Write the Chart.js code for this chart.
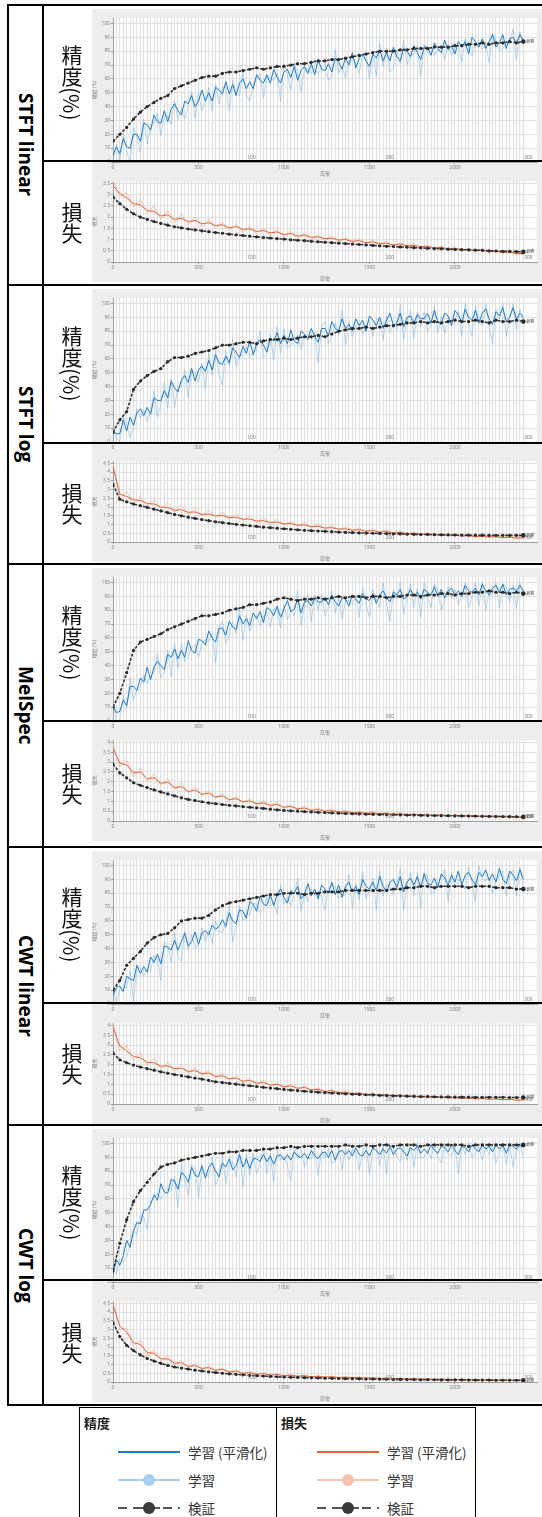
<!DOCTYPE html>
<html>
<head>
<meta charset="utf-8">
<script src="https://cdn.jsdelivr.net/npm/chart.js@4.4.1/dist/chart.umd.min.js"></script>
<style>
body { margin:0; width:542px; height:1517px; background:#fff; position:relative; overflow:hidden; font-family:"Noto Sans CJK JP", "Noto Sans", sans-serif; }
.hline { position:absolute; height:2px; background:#000; z-index:5; }
.vline { position:absolute; width:2px; background:#000; z-index:5; }
.shot { position:absolute; left:92px; width:450px; height:273px; background:#ededed; }
.shot canvas { position:absolute; left:0; }
.cell { position:absolute; display:flex; align-items:center; justify-content:center; }
.vert { writing-mode:vertical-rl; white-space:nowrap; }
.rowname { font-family:"Open Sans", "DejaVu Sans", sans-serif; font-weight:bold; font-size:19px; color:#000; }
.metric { font-family:"Noto Sans CJK JP", sans-serif; font-size:21px; color:#111; }
.lg { position:absolute; font-family:"Noto Sans CJK JP", sans-serif; color:#333; white-space:nowrap; }
</style>
</head>
<body>
<script>
"use strict";

// iteration grids (x values)
const iterations = [0,40,80,120,160,200,240,280,320,360,400,440,480,520,560,600,640,680,720,760,800,840,880,920,960,1000,1040,1080,1120,1160,1200,1240,1280,1320,1360,1400,1440,1480,1520,1560,1600,1640,1680,1720,1760,1800,1840,1880,1920,1960,2000,2040,2080,2120,2160,2200,2240,2280,2320,2360,2400];
const iterationsFine = [0,20,40,60,80,100,120,140,160,180,200,220,240,260,280,300,320,340,360,380,400,420,440,460,480,500,520,540,560,580,600,620,640,660,680,700,720,740,760,780,800,820,840,860,880,900,920,940,960,980,1000,1020,1040,1060,1080,1100,1120,1140,1160,1180,1200,1220,1240,1260,1280,1300,1320,1340,1360,1380,1400,1420,1440,1460,1480,1500,1520,1540,1560,1580,1600,1620,1640,1660,1680,1700,1720,1740,1760,1780,1800,1820,1840,1860,1880,1900,1920,1940,1960,1980,2000,2020,2040,2060,2080,2100,2120,2140,2160,2180,2200,2220,2240,2260,2280,2300,2320,2340,2360,2380,2400];

const epochLabels = ['100', '200', '300'];
const epochIters = [810, 1620, 2430];
const xTickLabels = [0, 500, 1000, 1500, 2000];
const accTicks = [0, 10, 20, 30, 40, 50, 60, 70, 80, 90, 100];
const lossTicks = [0, 0.5, 1, 1.5, 2, 2.5, 3, 3.5, 4, 4.5];

const rowNames = ['STFT linear', 'STFT log', 'MelSpec', 'CWT linear', 'CWT log'];
const lossTopTicks = [3.5, 4.5, 4, 4, 4.5];
const legendLabels = ['学習 (平滑化)', '学習', '検証'];

// STFT linear
const stftLinAccVal = [15,20,25,31,36,40,43,46,48,53,55,57,59,61,62,62,64,65,65,66,67,68,67,68,69,69,70,71,71,72,73,73,74,74,75,76,77,78,79,80,80,80,81,81,82,82,82,83,83,83,84,84,85,85,86,85,86,86,87,86,87];
const stftLinAccTrain = [5,11,6,17,11,10,20,20,15,28,27,23,34,29,28,37,29,38,42,37,34,44,42,48,40,44,52,44,50,44,54,52,49,58,49,56,48,57,60,53,58,53,63,59,57,63,57,67,61,57,65,67,61,69,59,66,69,64,71,63,74,67,66,71,65,75,72,67,75,70,79,68,75,78,73,69,78,75,81,73,79,73,83,76,73,82,80,76,84,79,74,83,83,77,86,82,79,88,81,84,78,87,83,87,78,90,87,83,89,82,87,92,83,86,92,82,89,90,86,92,88];
const stftLinAccRaw = [0,13,0,21,8,0,25,18,7,31,13,24,29,35,19,34,33,27,44,31,39,31,40,51,32,50,37,43,54,37,56,42,54,54,37,59,49,48,66,48,44,55,60,64,46,62,61,59,64,44,71,63,52,71,64,51,67,67,64,67,64,68,71,59,62,81,64,69,61,73,74,72,64,77,79,60,80,62,86,69,82,65,68,80,71,88,70,77,78,84,62,85,79,83,77,81,82,74,85,77,83,84,72,89,84,77,85,87,81,85,72,93,88,80,82,86,86,96,74,94,84];
const stftLinLossVal = [2.9,2.6,2.35,2.15,2.0,1.9,1.8,1.72,1.64,1.57,1.52,1.47,1.43,1.39,1.35,1.31,1.28,1.24,1.21,1.18,1.15,1.12,1.09,1.07,1.04,1.02,0.99,0.97,0.95,0.92,0.9,0.88,0.86,0.84,0.82,0.8,0.78,0.76,0.74,0.72,0.7,0.69,0.67,0.66,0.64,0.63,0.61,0.6,0.59,0.57,0.56,0.55,0.54,0.53,0.52,0.5,0.49,0.48,0.47,0.46,0.45];
const stftLinLossTrain = [3.4,3.05,2.85,2.6,2.55,2.3,2.25,2.05,2.1,1.9,1.95,1.8,1.85,1.7,1.75,1.62,1.66,1.52,1.58,1.45,1.48,1.36,1.4,1.3,1.34,1.22,1.27,1.15,1.2,1.1,1.12,1.04,1.06,0.98,1.0,0.92,0.95,0.86,0.9,0.82,0.84,0.76,0.8,0.72,0.74,0.68,0.7,0.62,0.66,0.58,0.6,0.55,0.56,0.5,0.52,0.46,0.48,0.42,0.44,0.38,0.38];
const stftLinLossRaw = [3.6,2.9,3.1,2.45,2.8,2.15,2.5,1.9,2.3,1.75,2.15,1.65,2.0,1.55,1.9,1.5,1.8,1.4,1.7,1.32,1.6,1.25,1.52,1.18,1.45,1.1,1.38,1.05,1.3,0.98,1.22,0.94,1.15,0.88,1.1,0.82,1.05,0.78,0.98,0.72,0.92,0.68,0.88,0.64,0.82,0.6,0.78,0.55,0.72,0.52,0.68,0.48,0.63,0.44,0.6,0.4,0.55,0.36,0.52,0.33,0.36];

// STFT log
const stftLogAccVal = [7,16,22,38,44,48,51,53,58,61,61,62,64,65,66,68,70,70,71,72,72,71,73,74,74,75,74,75,76,76,77,76,78,80,81,82,82,83,82,83,84,84,85,86,86,87,86,87,86,87,88,87,87,88,87,86,88,87,87,88,87];
const stftLogAccTrain = [7,6,6,16,8,18,12,21,24,19,25,20,32,30,30,37,32,44,39,36,45,48,43,53,44,52,55,51,59,52,63,57,56,62,57,68,65,61,69,64,73,63,71,74,70,65,75,73,79,71,77,71,81,73,71,80,78,74,82,76,72,82,82,77,87,82,80,89,82,85,80,89,84,88,80,91,88,84,90,82,88,93,84,86,93,83,90,91,86,92,89,89,93,86,95,87,85,93,91,84,95,92,86,96,90,88,95,86,93,96,89,85,94,91,97,87,90,97,89,93,90];
const stftLogAccRaw = [13,2,0,18,13,3,10,24,17,23,15,21,37,18,27,43,24,46,25,39,40,52,32,52,50,43,57,38,64,48,66,49,41,66,55,74,55,62,63,69,61,65,67,80,61,64,78,59,83,64,82,68,70,75,77,67,76,78,74,79,57,83,87,71,77,86,77,95,70,87,76,83,86,78,84,88,76,89,88,74,91,79,85,81,99,74,87,95,75,94,83,94,80,84,98,79,91,78,90,88,88,94,76,100,86,76,98,87,84,100,84,71,96,88,100,76,89,100,81,96,88];
const stftLogLossVal = [3.3,2.45,2.3,2.17,2.08,1.98,1.88,1.78,1.68,1.58,1.5,1.42,1.35,1.28,1.22,1.16,1.11,1.06,1.01,0.97,0.93,0.89,0.85,0.82,0.79,0.76,0.73,0.7,0.67,0.65,0.63,0.61,0.59,0.57,0.55,0.54,0.52,0.51,0.5,0.49,0.48,0.47,0.46,0.45,0.44,0.43,0.43,0.42,0.41,0.41,0.4,0.4,0.39,0.39,0.39,0.38,0.38,0.38,0.38,0.38,0.38];
const stftLogLossTrain = [4.3,2.75,2.6,2.42,2.38,2.2,2.18,2.0,1.98,1.82,1.85,1.7,1.72,1.58,1.6,1.5,1.52,1.4,1.42,1.3,1.32,1.2,1.22,1.12,1.14,1.04,1.06,0.96,0.98,0.88,0.9,0.8,0.82,0.74,0.76,0.68,0.7,0.62,0.65,0.57,0.6,0.52,0.55,0.48,0.5,0.44,0.46,0.4,0.43,0.38,0.4,0.34,0.36,0.3,0.32,0.28,0.3,0.25,0.27,0.23,0.24];
const stftLogLossRaw = [4.5,2.5,2.9,2.2,2.65,2.0,2.45,1.85,2.25,1.7,2.1,1.58,1.95,1.48,1.82,1.4,1.72,1.3,1.62,1.2,1.5,1.12,1.4,1.04,1.3,0.96,1.2,0.9,1.12,0.82,1.02,0.74,0.95,0.68,0.88,0.62,0.82,0.56,0.76,0.52,0.7,0.48,0.64,0.44,0.6,0.4,0.55,0.36,0.52,0.33,0.48,0.3,0.44,0.27,0.4,0.25,0.36,0.22,0.33,0.2,0.25];

// MelSpec
const melAccVal = [10,20,35,51,57,59,61,63,66,68,70,72,74,76,76,77,78,80,81,82,84,84,85,86,88,89,88,87,88,88,89,88,89,90,89,90,90,89,90,90,89,90,90,91,91,90,91,91,92,92,91,92,92,93,93,94,93,93,92,93,92];
const melAccTrain = [11,6,7,15,11,25,25,22,31,28,39,30,39,43,40,37,48,46,52,45,51,46,58,51,49,59,58,55,65,60,57,67,67,62,72,68,66,76,70,74,69,78,74,79,71,82,80,76,83,75,81,87,79,81,88,78,86,87,83,89,86,86,89,84,91,86,83,89,88,83,91,88,85,92,88,87,92,85,91,94,89,86,93,91,95,88,90,95,90,93,88,95,93,91,97,90,95,89,94,96,91,94,90,98,94,93,96,91,99,94,91,96,98,93,99,91,95,96,94,98,94];
const melAccRaw = [14,0,0,19,9,31,15,23,25,33,27,32,35,49,31,36,51,32,56,38,56,43,47,53,55,46,56,59,57,63,42,68,72,56,62,72,63,82,58,76,65,72,76,69,75,79,68,81,81,67,84,73,80,76,94,69,83,91,72,91,80,91,76,82,94,78,89,74,87,87,84,90,75,97,84,75,95,86,82,100,84,72,95,88,100,77,89,99,82,96,75,100,89,82,99,95,80,87,97,89,95,84,91,100,82,90,100,83,100,80,94,91,100,82,98,97,86,98,81,100,90];
const melLossVal = [2.9,2.45,2.2,1.95,1.82,1.7,1.58,1.48,1.38,1.28,1.18,1.1,1.04,0.98,0.92,0.88,0.84,0.8,0.77,0.73,0.7,0.67,0.64,0.6,0.57,0.54,0.52,0.5,0.48,0.46,0.44,0.43,0.41,0.4,0.38,0.37,0.36,0.35,0.34,0.33,0.32,0.32,0.31,0.3,0.3,0.29,0.28,0.28,0.27,0.27,0.26,0.26,0.25,0.25,0.24,0.24,0.23,0.23,0.22,0.22,0.21];
const melLossTrain = [3.7,2.95,2.85,2.45,2.5,2.15,2.2,1.92,1.98,1.7,1.75,1.5,1.58,1.36,1.42,1.22,1.28,1.08,1.14,0.98,1.02,0.88,0.92,0.8,0.84,0.7,0.74,0.62,0.66,0.55,0.58,0.5,0.53,0.46,0.48,0.42,0.45,0.39,0.42,0.36,0.39,0.34,0.36,0.32,0.34,0.3,0.32,0.28,0.31,0.26,0.29,0.24,0.27,0.23,0.25,0.21,0.24,0.2,0.23,0.19,0.2];
const melLossRaw = [3.9,2.75,3.1,2.25,2.7,2.0,2.4,1.8,2.15,1.58,1.95,1.4,1.75,1.28,1.55,1.15,1.4,1.02,1.25,0.92,1.12,0.82,1.02,0.74,0.94,0.65,0.84,0.58,0.76,0.5,0.68,0.46,0.62,0.42,0.56,0.38,0.52,0.35,0.5,0.32,0.46,0.3,0.44,0.28,0.42,0.26,0.4,0.24,0.38,0.22,0.36,0.2,0.34,0.19,0.32,0.18,0.31,0.17,0.3,0.16,0.21];

// CWT linear
const cwtLinAccVal = [10,17,28,33,38,44,48,50,51,55,60,61,62,62,64,68,71,73,74,75,76,77,78,79,79,80,80,80,79,80,80,81,81,81,82,82,82,82,82,82,82,83,83,84,84,85,85,84,85,85,85,85,84,85,85,85,84,84,84,83,83];
const cwtLinAccTrain = [6,12,13,9,20,18,17,28,22,27,23,34,30,36,29,42,41,39,46,39,45,51,42,45,52,43,51,53,50,57,54,56,61,56,66,60,58,68,67,62,74,72,67,78,72,71,79,71,79,83,77,73,82,80,85,76,79,87,78,83,76,86,83,80,88,79,86,77,85,88,81,85,79,90,85,83,88,82,92,85,81,88,90,84,92,81,88,91,86,92,84,94,87,86,91,84,94,91,86,93,88,96,86,93,95,90,86,95,92,97,89,94,88,98,90,87,96,93,89,97,90];
const cwtLinAccRaw = [11,0,11,12,12,24,2,27,26,20,25,24,35,32,17,45,42,30,52,34,31,53,39,50,41,42,55,45,53,44,60,52,52,58,71,45,56,71,60,66,64,73,72,66,69,77,71,73,65,86,72,77,71,79,91,67,81,74,83,79,79,78,68,84,86,85,76,78,79,93,69,87,75,96,76,82,91,68,96,78,86,85,79,86,98,68,86,95,78,95,69,95,92,80,81,88,91,97,74,95,84,90,88,83,99,87,74,100,90,89,92,80,89,93,96,78,93,97,78,99,84];
const cwtLinLossVal = [2.6,2.25,2.1,1.98,1.88,1.8,1.72,1.64,1.57,1.5,1.44,1.38,1.32,1.27,1.2,1.13,1.09,1.05,1.01,0.97,0.93,0.89,0.85,0.81,0.78,0.74,0.71,0.68,0.65,0.63,0.6,0.58,0.56,0.54,0.52,0.5,0.49,0.47,0.46,0.44,0.43,0.42,0.41,0.4,0.39,0.38,0.38,0.37,0.36,0.36,0.35,0.35,0.35,0.34,0.34,0.34,0.34,0.34,0.33,0.33,0.33];
const cwtLinLossTrain = [3.9,2.95,2.7,2.42,2.35,2.12,2.1,1.92,1.95,1.8,1.82,1.66,1.7,1.55,1.58,1.4,1.44,1.28,1.32,1.16,1.2,1.06,1.1,0.96,1.0,0.88,0.92,0.8,0.84,0.72,0.75,0.64,0.68,0.58,0.6,0.53,0.55,0.48,0.5,0.44,0.46,0.41,0.43,0.38,0.4,0.36,0.37,0.33,0.35,0.31,0.32,0.28,0.3,0.26,0.28,0.24,0.26,0.22,0.24,0.2,0.21];
const cwtLinLossRaw = [4.1,2.7,3.0,2.2,2.6,1.95,2.35,1.78,2.15,1.66,2.0,1.55,1.85,1.45,1.72,1.3,1.58,1.18,1.45,1.07,1.32,0.97,1.2,0.88,1.1,0.8,1.02,0.72,0.92,0.65,0.84,0.58,0.76,0.52,0.68,0.48,0.62,0.44,0.56,0.4,0.52,0.37,0.48,0.34,0.45,0.32,0.42,0.3,0.4,0.28,0.37,0.25,0.35,0.23,0.32,0.21,0.3,0.19,0.28,0.17,0.22];

// CWT log
const cwtLogAccVal = [8,28,45,58,66,72,78,83,85,86,88,89,90,91,92,93,93,94,94,95,95,95,96,96,97,97,98,97,98,98,98,98,98,98,99,98,98,99,98,99,99,98,99,99,99,98,99,99,99,99,99,99,98,99,99,99,99,99,99,99,99];
const cwtLogAccTrain = [6,16,12,19,30,25,37,43,42,52,52,56,63,59,71,65,64,74,73,67,79,77,72,83,77,76,84,75,83,86,80,76,86,83,89,81,84,92,83,89,82,89,89,87,92,87,91,85,91,92,88,92,88,94,91,90,93,89,95,91,89,93,94,90,95,88,94,95,92,95,91,97,92,91,95,91,97,95,92,96,93,98,92,96,97,94,91,97,95,98,93,96,93,99,95,93,98,97,94,99,95,92,98,97,94,99,96,94,99,96,98,94,99,96,99,93,99,98,96,99,97];
const cwtLogAccRaw = [8,6,17,15,18,28,38,34,48,47,38,58,60,64,60,64,68,66,76,54,85,73,63,85,82,61,82,78,76,90,70,77,91,71,86,87,76,94,69,92,77,93,78,86,98,78,93,72,96,88,91,84,73,98,89,96,83,90,89,96,77,95,90,96,86,87,97,81,96,88,96,94,81,93,100,78,95,99,84,99,78,99,97,90,87,98,88,100,83,100,89,90,95,89,99,90,86,100,92,91,98,78,99,92,100,90,93,98,88,98,92,99,86,94,100,85,100,83,95,100,90];
const cwtLogLossVal = [3.4,2.6,2.1,1.8,1.55,1.35,1.2,1.07,0.95,0.86,0.8,0.74,0.68,0.63,0.58,0.54,0.5,0.47,0.44,0.41,0.38,0.36,0.34,0.32,0.3,0.28,0.27,0.26,0.25,0.24,0.23,0.22,0.21,0.2,0.19,0.19,0.18,0.17,0.17,0.16,0.16,0.15,0.15,0.14,0.14,0.13,0.13,0.13,0.12,0.12,0.12,0.12,0.11,0.11,0.11,0.11,0.1,0.1,0.1,0.1,0.1];
const cwtLogLossTrain = [4.4,3.2,2.85,2.25,2.15,1.68,1.65,1.33,1.32,1.08,1.1,0.9,0.93,0.78,0.82,0.68,0.72,0.58,0.62,0.5,0.54,0.44,0.48,0.4,0.43,0.36,0.39,0.33,0.36,0.3,0.33,0.28,0.3,0.26,0.28,0.24,0.26,0.22,0.24,0.2,0.22,0.19,0.21,0.17,0.19,0.16,0.18,0.15,0.16,0.14,0.15,0.13,0.14,0.12,0.13,0.11,0.12,0.1,0.11,0.09,0.1];
const cwtLogLossRaw = [4.6,3.0,3.1,2.05,2.4,1.5,1.85,1.2,1.5,0.98,1.25,0.82,1.05,0.72,0.92,0.62,0.8,0.54,0.7,0.46,0.6,0.4,0.54,0.37,0.48,0.33,0.43,0.3,0.4,0.28,0.36,0.25,0.34,0.24,0.31,0.22,0.29,0.2,0.27,0.18,0.25,0.17,0.23,0.16,0.21,0.15,0.2,0.14,0.18,0.13,0.17,0.12,0.16,0.11,0.15,0.1,0.14,0.09,0.13,0.08,0.1];

const accSeries = [
	[stftLinAccVal, stftLinAccTrain, stftLinAccRaw],
	[stftLogAccVal, stftLogAccTrain, stftLogAccRaw],
	[melAccVal, melAccTrain, melAccRaw],
	[cwtLinAccVal, cwtLinAccTrain, cwtLinAccRaw],
	[cwtLogAccVal, cwtLogAccTrain, cwtLogAccRaw],
];
const lossSeries = [
	[stftLinLossVal, stftLinLossTrain, stftLinLossRaw],
	[stftLogLossVal, stftLogLossTrain, stftLogLossRaw],
	[melLossVal, melLossTrain, melLossRaw],
	[cwtLinLossVal, cwtLinLossTrain, cwtLinLossRaw],
	[cwtLogLossVal, cwtLogLossTrain, cwtLogLossRaw],
];

// layout of the table (pixels)
const rowTops = [5, 285, 564, 847, 1125];
const rowSplits = [161, 443, 721, 1003, 1280];
const tableBottom = 1405;

Chart.defaults.font.family = 'Roboto, "Noto Sans CJK JP", sans-serif';

const plotBg = {
	id: 'plotBg',
	beforeDraw: function(chart) {
		const a = chart.chartArea;
		const ctx = chart.ctx;
		ctx.save();
		ctx.fillStyle = '#fcfcfc';
		ctx.fillRect(a.left, a.top, a.right - a.left, a.bottom - a.top);
		ctx.restore();
	}
};

const epochMarks = {
	id: 'epochMarks',
	afterDatasetsDraw: function(chart) {
		const a = chart.chartArea;
		const ctx = chart.ctx;
		const x = chart.scales.x;
		const y = chart.scales.y;
		ctx.save();
		ctx.font = '5px Roboto';
		ctx.fillStyle = '#8a8a8a';
		ctx.textAlign = 'center';
		ctx.textBaseline = 'bottom';
		for (var i = 0; i < epochLabels.length; i++) {
			ctx.fillText(epochLabels[i], x.getPixelForValue(epochIters[i]), a.bottom - 2);
		}
		// final validation label
		const val = chart.data.datasets[0].data;
		const last = val[val.length - 1];
		ctx.font = '4px "Noto Sans CJK JP"';
		ctx.fillStyle = '#444';
		ctx.textAlign = 'left';
		ctx.textBaseline = 'middle';
		ctx.fillText('最終', x.getPixelForValue(last.x) + 3, y.getPixelForValue(last.y));
		ctx.restore();
	}
};

function points(arr, xs) {
	return xs.map(function(it, i) { return {x: it, y: arr[i]}; });
}

function makeChart(canvas, isAcc, series, topTick) {
	const lineColor = isAcc ? '#1c7ccb' : '#e0653a';
	const rawColor = isAcc ? 'rgba(120,178,224,0.5)' : 'rgba(240,166,136,0.6)';
	const trainX = isAcc ? iterationsFine : iterations;
	const tickValues = isAcc ? accTicks : lossTicks.filter(function(v) { return v <= topTick; });
	const lastIndex = iterations.length - 1;
	return new Chart(canvas, {
		type: 'line',
		data: {
			datasets: [
				{
					label: '検証',
					data: points(series[0], iterations),
					borderColor: '#333',
					borderWidth: 1.6,
					borderDash: [3, 1.5],
					pointRadius: function(c) { return c.dataIndex === lastIndex ? 2.3 : 1.6; },
					pointBackgroundColor: '#2a2a2a',
					pointBorderWidth: 0,
				},
				{
					label: '学習 (平滑化)',
					data: points(series[1], trainX),
					borderColor: lineColor,
					borderWidth: 1,
					pointRadius: 0,
				},
				{
					label: '学習',
					data: points(series[2], trainX),
					borderColor: rawColor,
					borderWidth: 1,
					pointRadius: 0,
				}
			]
		},
		options: {
			responsive: false,
			animation: false,
			devicePixelRatio: 1,
			layout: {
				padding: {top: isAcc ? 8 : 3, right: 5, left: 0, bottom: 0}
			},
			elements: {
				line: {tension: 0}
			},
			plugins: {
				legend: {display: false},
				tooltip: {enabled: false}
			},
			scales: {
				x: {
					type: 'linear',
					min: 0,
					max: 2480,
					afterFit: function(s) { s.height = isAcc ? 15 : 20; },
					ticks: {
						stepSize: 20,
						autoSkip: false,
						maxRotation: 0,
						minRotation: 0,
						padding: 1,
						color: '#8a8a8a',
						font: {size: 5},
						callback: function(v) { return xTickLabels.indexOf(v) >= 0 ? String(v) : ''; }
					},
					grid: {
						color: function(c) { return c.tick && c.tick.value <= 2410 ? 'rgba(0,0,0,0.11)' : 'rgba(0,0,0,0)'; },
						tickLength: 2,
						tickColor: function(c) { return c.tick && xTickLabels.indexOf(c.tick.value) >= 0 ? '#999' : 'rgba(0,0,0,0)'; }
					},
					border: {color: '#a0a0a0'},
					title: {display: true, text: '反復', color: '#808080', font: {size: 5}, padding: 0}
				},
				y: {
					min: 0,
					max: isAcc ? 104 : topTick * 1.031,
					afterFit: function(s) { s.width = 21; },
					afterBuildTicks: function(axis) {
						axis.ticks = tickValues.map(function(v) { return {value: v}; });
					},
					ticks: {
						padding: 1,
						color: '#8a8a8a',
						font: {size: 5},
						callback: function(v) { return String(v); }
					},
					grid: {
						color: '#e0e0e0',
						tickLength: 2,
						tickColor: '#999'
					},
					border: {color: '#a0a0a0'},
					title: {display: true, text: isAcc ? '精度 (%)' : '損失', color: '#808080', font: {size: 5}, padding: 0}
				}
			}
		},
		plugins: [plotBg, epochMarks]
	});
}

function addDiv(cls, css, text) {
	const d = document.createElement('div');
	d.className = cls;
	d.style.cssText = css;
	if (text !== undefined) {
		d.textContent = text;
	}
	document.body.appendChild(d);
	return d;
}

function addLabel(left, top, width, height, cls, text) {
	const cell = addDiv('cell', 'left:' + left + 'px;top:' + top + 'px;width:' + width + 'px;height:' + height + 'px;');
	const span = document.createElement('span');
	span.className = 'vert ' + cls;
	span.textContent = text;
	cell.appendChild(span);
}

for (var r = 0; r < rowNames.length; r++) {
	const top = rowTops[r];
	const bottom = r + 1 < rowTops.length ? rowTops[r + 1] : tableBottom;
	const split = rowSplits[r];

	const shot = addDiv('shot', 'top:' + (top + 4) + 'px;');
	const accCanvas = document.createElement('canvas');
	accCanvas.width = 450;
	accCanvas.height = 167;
	accCanvas.style.top = '1px';
	shot.appendChild(accCanvas);
	const lossCanvas = document.createElement('canvas');
	lossCanvas.width = 450;
	lossCanvas.height = 105;
	lossCanvas.style.top = '168px';
	shot.appendChild(lossCanvas);

	makeChart(accCanvas, true, accSeries[r], 100);
	makeChart(lossCanvas, false, lossSeries[r], lossTopTicks[r]);

	addLabel(9, top, 33, bottom - top, 'rowname', rowNames[r]);
	addLabel(44, top, 56, split - top, 'metric', '精度(%)');
	addLabel(44, split, 56, bottom - split, 'metric', '損失');

	addDiv('hline', 'left:43px;width:499px;top:' + (split - 1) + 'px;');
	if (r > 0) {
		addDiv('hline', 'left:7px;width:535px;top:' + (top - 1) + 'px;');
	}
}

// outer table frame
addDiv('hline', 'left:7px;width:535px;top:4px;');
addDiv('hline', 'left:7px;width:535px;top:' + (tableBottom - 1) + 'px;');
addDiv('vline', 'left:7px;top:4px;height:' + (tableBottom - 3) + 'px;');
addDiv('vline', 'left:42px;top:4px;height:' + (tableBottom - 3) + 'px;');

// legend
addDiv('', 'position:absolute;left:79px;top:1407px;width:395px;height:130px;border:1.5px solid #000;');
addDiv('', 'position:absolute;left:275.5px;top:1408px;width:1.5px;height:120px;background:#000;');

const legendCols = [
	{left: 79, title: '精度', lineL: 118, textL: 188, main: '#1c7ccb', light: '#a9cfec'},
	{left: 276, title: '損失', lineL: 317, textL: 387, main: '#e0653a', light: '#f3c3ae'},
];
const legendRowsY = [1452, 1480, 1508];

legendCols.forEach(function(col) {
	addDiv('lg', 'left:' + (col.left + 5) + 'px;top:1414px;font-size:13px;font-weight:bold;color:#222;line-height:18px;', col.title);
	legendRowsY.forEach(function(y, i) {
		if (i === 0) {
			addDiv('', 'position:absolute;left:' + col.lineL + 'px;top:' + (y - 1) + 'px;width:62px;height:2px;background:' + col.main + ';');
		} else if (i === 1) {
			addDiv('', 'position:absolute;left:' + col.lineL + 'px;top:' + (y - 1) + 'px;width:62px;height:2px;background:' + col.light + ';');
			addDiv('', 'position:absolute;left:' + (col.lineL + 25) + 'px;top:' + (y - 6) + 'px;width:12px;height:12px;border-radius:6px;background:' + col.light + ';');
		} else {
			addDiv('', 'position:absolute;left:' + col.lineL + 'px;top:' + (y - 1) + 'px;width:62px;height:2px;background:repeating-linear-gradient(90deg,#555 0 9px,rgba(0,0,0,0) 9px 15px);');
			addDiv('', 'position:absolute;left:' + (col.lineL + 20) + 'px;top:' + (y - 1) + 'px;width:22px;height:2px;background:#555;');
			addDiv('', 'position:absolute;left:' + (col.lineL + 25) + 'px;top:' + (y - 6) + 'px;width:12px;height:12px;border-radius:6px;background:#3a3a3a;');
		}
		addDiv('lg', 'left:' + col.textL + 'px;top:' + (y - 10) + 'px;font-size:13.5px;line-height:20px;', legendLabels[i]);
	});
});
</script>
</body>
</html>
